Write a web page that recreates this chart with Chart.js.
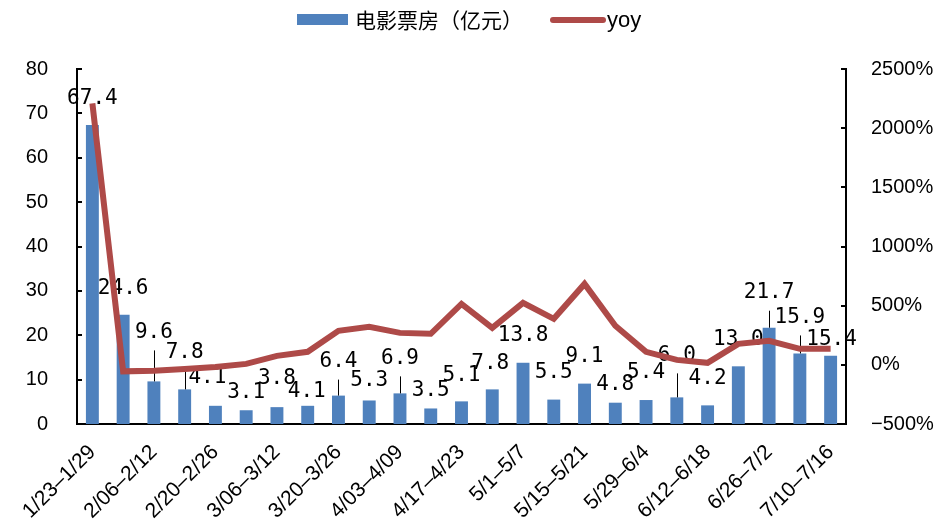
<!DOCTYPE html>
<html>
<head>
<meta charset="utf-8">
<script src="https://cdn.jsdelivr.net/npm/chart.js@4/dist/chart.umd.min.js"></script>
<style>
html,body{margin:0;padding:0;background:#fff;}
canvas{display:block;}
</style>
</head>
<body>
<canvas id="c" width="941" height="528"></canvas>
<script>
const categories = ["1/23–1/29","1/30–2/05","2/06–2/12","2/13–2/19","2/20–2/26","2/27–3/05","3/06–3/12","3/13–3/19","3/20–3/26","3/27–4/02","4/03–4/09","4/10–4/16","4/17–4/23","4/24–4/30","5/1–5/7","5/8–5/14","5/15–5/21","5/22–5/28","5/29–6/4","6/5–6/11","6/12–6/18","6/19–6/25","6/26–7/2","7/3–7/9","7/10–7/16"];
const boxOffice = [67.4,24.6,9.6,7.8,4.1,3.1,3.8,4.1,6.4,5.3,6.9,3.5,5.1,7.8,13.8,5.5,9.1,4.8,5.4,6.0,4.2,13.0,21.7,15.9,15.4];
const yoy = [2210,-55,-50,-35,-18,8,76,110,287,321,270,262,515,313,524,389,684,330,110,42,17,177,203,135,135];
const seriesNames = ["电影票房（亿元）","yoy"];

// label placement (pixel offsets from bar top) and leader-line flags
const labelOffsets = [[0,-26],[0,-26],[0,-49],[0,-37],[-8,-28],[0,-18],[0,-29],[-1,-14],[0,-34],[0,-20],[0,-35],[0,-18],[0,-26],[-2,-26],[0,-27],[0,-27],[0,-27],[0,-18],[0,-27],[0,-42],[0,-27],[0,-27],[0,-35],[0,-36],[1,-16]];
const leaders = [0,0,1,1,0,0,0,0,1,0,1,0,0,0,0,0,0,0,0,1,0,0,1,1,0];

const BLUE = "#4F81BD", RED = "#AE4A48";

const labelPlugin = {
  id: "barLabels",
  afterDatasetDraw(chart, args) {
    if (args.index !== 0) return;
    const ctx = chart.ctx;
    const meta = chart.getDatasetMeta(0);
    ctx.save();
    ctx.font = "21px 'DejaVu Sans Mono'";
    ctx.fillStyle = "#000";
    ctx.textAlign = "center";
    ctx.textBaseline = "middle";
    meta.data.forEach((bar, i) => {
      const x = bar.x + labelOffsets[i][0];
      const y = bar.y + labelOffsets[i][1];
      if (leaders[i]) {
        ctx.strokeStyle = "#000";
        ctx.lineWidth = 1;
        ctx.beginPath();
        ctx.moveTo(Math.round(bar.x) + 0.5, y + 18);
        ctx.lineTo(Math.round(bar.x) + 0.5, bar.y);
        ctx.stroke();
      }
      ctx.fillText(boxOffice[i].toFixed(1), x, y);
    });
    ctx.restore();
  }
};

const tickPlugin = {
  id: "innerTicks",
  afterDraw(chart) {
    const ctx = chart.ctx;
    const a = chart.chartArea;
    ctx.save();
    ctx.strokeStyle = "#000";
    ctx.lineWidth = 2;
    const ys = chart.scales.y, y1 = chart.scales.y1;
    ys.ticks.forEach(t => {
      const p = Math.round(ys.getPixelForValue(t.value));
      ctx.beginPath(); ctx.moveTo(a.left - 1, p); ctx.lineTo(a.left + 5, p); ctx.stroke();
    });
    y1.ticks.forEach(t => {
      const p = Math.round(y1.getPixelForValue(t.value));
      ctx.beginPath(); ctx.moveTo(a.right - 5, p); ctx.lineTo(a.right + 1, p); ctx.stroke();
    });
    ctx.restore();
  }
};

const legendPlugin = {
  id: "customLegend",
  afterDraw(chart) {
    const ctx = chart.ctx;
    ctx.save();
    ctx.fillStyle = BLUE;
    ctx.fillRect(297, 14, 51, 11);
    ctx.fillStyle = "#000";
    ctx.textBaseline = "middle";
    ctx.textAlign = "left";
    ctx.font = "21px 'Noto Sans CJK SC'";
    ctx.fillText(seriesNames[0], 355, 20);
    ctx.strokeStyle = RED;
    ctx.lineWidth = 6;
    ctx.lineCap = "round";
    ctx.beginPath(); ctx.moveTo(553, 20); ctx.lineTo(603, 20); ctx.stroke();
    ctx.font = "22px Arial, 'Liberation Sans'";
    ctx.fillText(seriesNames[1], 607, 21);
    ctx.restore();
  }
};

new Chart(document.getElementById("c"), {
  data: {
    labels: categories,
    datasets: [
      { type: "bar", label: seriesNames[0], data: boxOffice, yAxisID: "y", backgroundColor: BLUE,
        barPercentage: 0.42, categoryPercentage: 1.0, order: 1 },
      { type: "line", label: seriesNames[1], data: yoy, yAxisID: "y1", borderColor: RED, borderWidth: 6,
        pointRadius: 0, tension: 0, fill: false, order: 0, borderJoinStyle: "miter" }
    ]
  },
  options: {
    responsive: false,
    animation: false,
    devicePixelRatio: 1,
    layout: { padding: { top: 69, left: 0, right: 0, bottom: 0 } },
    plugins: { legend: { display: false }, tooltip: { enabled: false } },
    scales: {
      x: {
        offset: true,
        grid: { display: false },
        border: { display: true, color: "#000", width: 2 },
        ticks: {
          autoSkip: false, maxRotation: 45, minRotation: 45, padding: 8,
          color: "#000", font: { family: "Arial, 'Liberation Sans'", size: 21 },
          callback: function(v, i) { return i % 2 === 0 ? this.getLabelForValue(v) : ""; }
        },
        afterFit: s => { s.height = 104; }
      },
      y: {
        position: "left", min: 0, max: 80,
        grid: { display: false },
        border: { display: true, color: "#000", width: 2 },
        ticks: { stepSize: 10, padding: 21, color: "#000", font: { family: "Arial, 'Liberation Sans'", size: 20 } },
        afterFit: s => { s.width = 77; }
      },
      y1: {
        position: "right", min: -500, max: 2500,
        grid: { display: false },
        border: { display: true, color: "#000", width: 2 },
        ticks: { stepSize: 500, padding: 17, color: "#000", font: { family: "Arial, 'Liberation Sans'", size: 20 },
          callback: v => (v < 0 ? "−" + Math.abs(v) : v) + "%" },
        afterFit: s => { s.width = 95; }
      }
    }
  },
  plugins: [labelPlugin, tickPlugin, legendPlugin]
});
</script>
</body>
</html>
